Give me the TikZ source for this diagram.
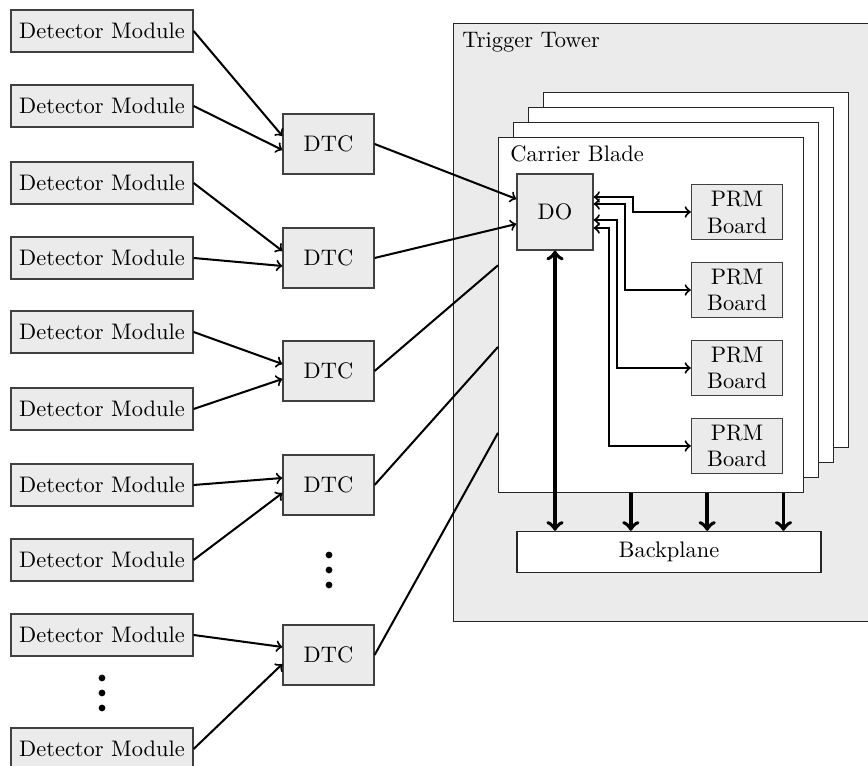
\documentclass[tikz,border=0pt]{standalone}
\usetikzlibrary{calc}
\begin{document}
\begin{tikzpicture}[x=0.4455pt, y=-0.4455pt,
  box/.style={draw=black!75, fill=black!8, line width=0.55pt, inner sep=0pt, align=center},
  dm/.style={box, minimum width=81.08pt, minimum height=18.71pt},
  dtc/.style={box, minimum width=40.54pt, minimum height=26.73pt},
  dobox/.style={box, minimum width=33.86pt, minimum height=33.86pt},
  prm/.style={box, minimum width=40.54pt, minimum height=24.5pt},
  blade/.style={draw=black!85, fill=white, line width=0.6pt, inner sep=0pt,
    minimum width=135.9pt, minimum height=158.2pt, anchor=north west},
  link/.style={line width=0.9pt, ->},
  plain/.style={line width=0.9pt},
  bus/.style={line width=1.7pt, ->},
  dot/.style={fill=black}
]
\clip (0,0) rectangle (868,766);

% trigger tower frame
\node[draw=black!85, fill=black!8, line width=0.6pt, inner sep=0pt,
  minimum width=188pt, minimum height=266.4pt, anchor=north west] (tower) at (453,23) {};
\node[anchor=base west, inner sep=0pt] (towerlbl) at (462,48) {Trigger Tower};

% stacked carrier blades, back to front
\node[blade] (blade3) at (543,92) {};
\node[blade] (blade2) at (528,107) {};
\node[blade] (blade1) at (513,122) {};
\node[blade] (blade0) at (498,137) {};
\node[anchor=base west, inner sep=0pt] (bladelbl) at (510,162) {Carrier Blade};

% detector modules
\node[dm] (m1) at (102,31) {Detector Module};
\node[dm] (m2) at (102,106) {Detector Module};
\node[dm] (m3) at (102,183) {Detector Module};
\node[dm] (m4) at (102,258) {Detector Module};
\node[dm] (m5) at (102,332) {Detector Module};
\node[dm] (m6) at (102,409) {Detector Module};
\node[dm] (m7) at (102,485) {Detector Module};
\node[dm] (m8) at (102,560) {Detector Module};
\node[dm] (m9) at (102,635) {Detector Module};
\node[dm] (m10) at (102,749) {Detector Module};

\fill[dot] (102,678) circle (1.5pt);
\fill[dot] (102,693) circle (1.5pt);
\fill[dot] (102,708) circle (1.5pt);

% DTCs
\node[dtc] (d1) at (328.5,144) {DTC};
\node[dtc] (d2) at (328.5,258) {DTC};
\node[dtc] (d3) at (328.5,371) {DTC};
\node[dtc] (d4) at (328.5,485) {DTC};
\node[dtc] (d5) at (328.5,655) {DTC};

\fill[dot] (329,555) circle (1.5pt);
\fill[dot] (329,570) circle (1.5pt);
\fill[dot] (329,585) circle (1.5pt);

% modules into DTCs
\draw[link] (m1.east) -- ($(d1.west)+(0,-8)$);
\draw[link] (m2.east) -- ($(d1.west)+(0,6)$);
\draw[link] (m3.east) -- ($(d2.west)+(0,-7)$);
\draw[link] (m4.east) -- ($(d2.west)+(0,8)$);
\draw[link] (m5.east) -- ($(d3.west)+(0,-7)$);
\draw[link] (m6.east) -- ($(d3.west)+(0,8)$);
\draw[link] (m7.east) -- ($(d4.west)+(0,-7)$);
\draw[link] (m8.east) -- ($(d4.west)+(0,8)$);
\draw[link] (m9.east) -- ($(d5.west)+(0,-8)$);
\draw[link] (m10.east) -- ($(d5.west)+(0,9)$);

% blade contents
\node[dobox] (do) at (555,212) {DO};
\node[prm] (p1) at (737,212) {PRM\\Board};
\node[prm] (p2) at (737,290) {PRM\\Board};
\node[prm] (p3) at (737,368) {PRM\\Board};
\node[prm] (p4) at (737,446) {PRM\\Board};

\node[draw=black!85, fill=white, line width=0.6pt, inner sep=0pt,
  minimum width=135.4pt, minimum height=18.27pt] (bp) at (669,552) {Backplane};

% DTCs into the blades
\draw[link] (d1.east) -- ($(do.west)+(0,-13)$);
\draw[link] (d2.east) -- ($(do.west)+(0,12)$);
\coordinate (e3) at ($(blade0.north west)!0.36!(blade0.south west)$);
\coordinate (e4) at ($(blade0.north west)!0.589!(blade0.south west)$);
\coordinate (e5) at ($(blade0.north west)!0.83!(blade0.south west)$);
\draw[plain] (d3.east) -- (e3);
\draw[plain] (d4.east) -- (e4);
\draw[plain] (d5.east) -- (e5);

% DO to PRM boards
\draw[link, <->] ($(do.east)+(0,-15)$) -- ++(39,0) |- (p1.west);
\draw[link, <->] ($(do.east)+(0,-8)$) -- ++(31,0) |- (p2.west);
\draw[link, <->] ($(do.east)+(0,8)$) -- ++(23,0) |- (p3.west);
\draw[link, <->] ($(do.east)+(0,16)$) -- ++(15,0) |- (p4.west);

% links to the backplane
\coordinate (b1) at ($(bp.north west)!0.125!(bp.north east)$);
\coordinate (b2) at ($(bp.north west)!0.375!(bp.north east)$);
\coordinate (b3) at ($(bp.north west)!0.625!(bp.north east)$);
\coordinate (b4) at ($(bp.north west)!0.875!(bp.north east)$);
\draw[bus, <->] (do.south) -- (do.south |- b1);
\draw[bus] (blade0.south -| b2) -- (b2);
\draw[bus] (blade0.south -| b3) -- (b3);
\draw[bus] (blade0.south -| b4) -- (b4);
\end{tikzpicture}
\end{document}
